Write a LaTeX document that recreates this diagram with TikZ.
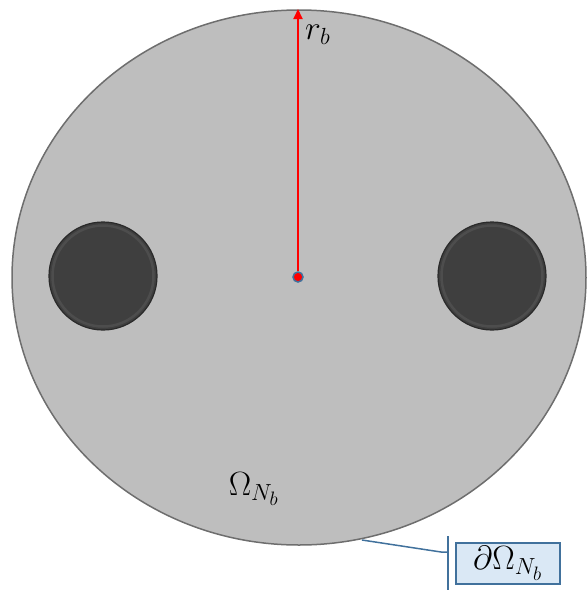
\documentclass[tikz,border=0pt]{standalone}
\usepackage{graphicx}
\usetikzlibrary{arrows.meta,shapes.geometric}
\definecolor{bodyfill}{HTML}{BEBEBE}
\definecolor{bodyline}{HTML}{6E6E6E}
\definecolor{holefill}{HTML}{3F3F3F}
\definecolor{holerim}{HTML}{4D4D4D}
\definecolor{holeline}{HTML}{2A2A2A}
\definecolor{leader}{HTML}{41719C}
\definecolor{boxfill}{HTML}{DAE8F5}
\newcommand{\biglbl}[1]{\scalebox{1.62}{\fontsize{20.74}{25}\selectfont #1}}
\tikzset{
  bodyshape/.style={ellipse, minimum width=574pt, minimum height=535pt, inner sep=0pt, fill=bodyfill, draw=bodyline, line width=1.5pt},
  hole/.style={circle, minimum size=108pt, inner sep=0pt, draw=holeline, line width=1.2pt, fill=holefill},
  holering/.style={circle, minimum size=101pt, inner sep=0pt, draw=holerim, line width=2.5pt},
  lbl/.style={inner sep=0pt},
  tagbox/.style={draw=leader, fill=boxfill, line width=1.2pt, minimum width=104pt, minimum height=41pt, inner sep=0pt},
}
\begin{document}
\begin{tikzpicture}[x=1pt,y=-1pt]
\useasboundingbox (0,0) rectangle (588,590);
% body
\node[bodyshape] (body) at (299,277.5) {};
% holes
\node[hole] (h1) at (103,276) {};
\node[holering] (h1r) at (h1) {};
\node[hole] (h2) at (492,276) {};
\node[holering] (h2r) at (h2) {};
% centre and radius
\coordinate (top) at (298,9);
\node[circle, fill=red, draw=leader, line width=1.5pt, minimum size=10pt, inner sep=0pt] (c) at (298,277) {};
\draw[red, line width=2pt, -{Triangle[length=10pt,width=9pt]}] (c) -- (top);
\node[lbl, anchor=west] (rb) at (305,35) {\biglbl{$r_b$}};
\node[lbl] (om) at (254,489) {\biglbl{$\Omega_{N_b}$}};
% boundary tag
\node[tagbox] (tag) at (508,563.5) {\biglbl{$\partial\Omega_{N_b}$}};
\coordinate (bar1) at (448,536);
\coordinate (bar2) at (448,590);
\coordinate (lp) at (362,540);
\coordinate (lk) at (441,552);
\coordinate (lb) at (448,552);
\draw[leader, line width=1.5pt] (bar1) -- (bar2);
\draw[leader, line width=1.5pt] (lp) -- (lk) -- (lb);
\end{tikzpicture}
\end{document}
